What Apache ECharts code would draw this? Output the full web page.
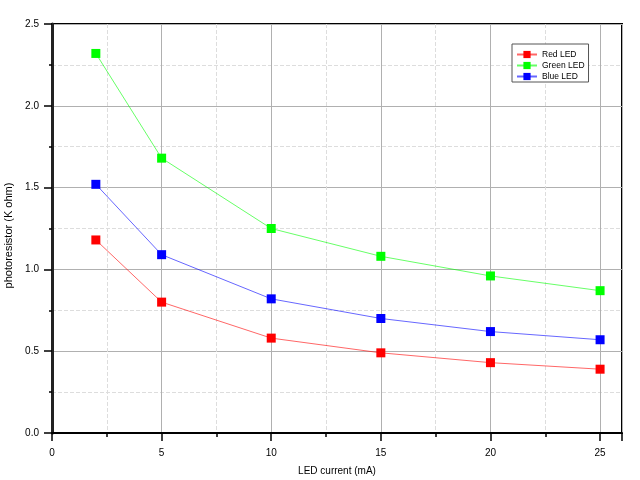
<!DOCTYPE html>
<html>
<head>
<meta charset="utf-8">
<style>
    html, body { margin: 0; padding: 0; background: #fff; }
    #chart { width: 640px; height: 480px; }
</style>
<script src="https://cdn.jsdelivr.net/npm/echarts@6/dist/echarts.min.js"></script>
</head>
<body>
<div id="chart"></div>
<script>
// LED current (mA)
var current = [2, 5, 10, 15, 20, 25];
// photoresistor readings (K ohm)
var redLED   = [1.18, 0.80, 0.58, 0.49, 0.43, 0.39];
var greenLED = [2.32, 1.68, 1.25, 1.08, 0.96, 0.87];
var blueLED  = [1.52, 1.09, 0.82, 0.70, 0.62, 0.57];
var seriesNames = ['Red LED', 'Green LED', 'Blue LED'];

function pairs(ys) {
    return current.map(function (x, i) { return [x, ys[i]]; });
}

function makeSeries(name, ys, color) {
    return {
        name: name,
        type: 'line',
        data: pairs(ys),
        symbol: 'rect',
        symbolSize: 9,
        itemStyle: { color: color },
        lineStyle: { color: color, width: 1, opacity: 0.6 },
        emphasis: { disabled: true }
    };
}

var font = 'Liberation Sans, Arial, sans-serif';

var option = {
    animation: false,
    textStyle: { fontFamily: font },
    grid: {
        left: 52, right: 18, top: 24, bottom: 47,
        outerBoundsMode: 'none',
        show: true, borderColor: '#000', borderWidth: 2
    },
    legend: {
        orient: 'vertical',
        left: 512, top: 44,
        padding: [6, 4, 1, 4],
        itemGap: 2,
        itemWidth: 20,
        itemHeight: 9,
        borderColor: '#555',
        borderWidth: 1,
        backgroundColor: '#fff',
        textStyle: { fontSize: 8.5, color: '#000', fontFamily: font },
        data: seriesNames
    },
    xAxis: {
        type: 'value',
        min: 0, max: 26, interval: 5,
        name: 'LED current (mA)',
        nameLocation: 'middle',
        nameGap: 33,
        nameTextStyle: { fontSize: 10, color: '#000' },
        axisLine: { lineStyle: { color: '#000', width: 2 } },
        axisTick: { show: true, length: 8, lineStyle: { color: '#000', width: 1.5 } },
        minorTick: { show: true, splitNumber: 2, length: 4, lineStyle: { color: '#000', width: 1.5 } },
        axisLabel: {
            fontSize: 10, color: '#000', margin: 15,
            showMaxLabel: false
        },
        splitLine: { show: true, lineStyle: { color: '#b0b0b0', width: 1 } },
        minorSplitLine: { show: true, lineStyle: { color: '#ddd', type: 'dashed', width: 1 } }
    },
    yAxis: {
        type: 'value',
        min: 0, max: 2.5, interval: 0.5,
        name: 'photoresistor (K ohm)',
        nameLocation: 'middle',
        nameGap: 32,
        nameTextStyle: { fontSize: 11, color: '#000', padding: [0, 14, 0, 0] },
        axisLine: { show: true, lineStyle: { color: '#222', width: 3 } },
        axisTick: { show: true, length: 8, lineStyle: { color: '#000', width: 1.5 } },
        minorTick: { show: true, splitNumber: 2, length: 3, lineStyle: { color: '#000', width: 1.5 } },
        axisLabel: {
            fontSize: 10, color: '#000', margin: 13,
            formatter: function (v) { return v.toFixed(1); }
        },
        splitLine: { show: true, lineStyle: { color: '#b0b0b0', width: 1 } },
        minorSplitLine: { show: true, lineStyle: { color: '#ddd', type: 'dashed', width: 1 } }
    },
    series: [
        makeSeries(seriesNames[0], redLED, '#ff0000'),
        makeSeries(seriesNames[1], greenLED, '#00ff00'),
        makeSeries(seriesNames[2], blueLED, '#0000ff')
    ]
};

var chart = echarts.init(document.getElementById('chart'));
chart.setOption(option);
</script>
</body>
</html>
